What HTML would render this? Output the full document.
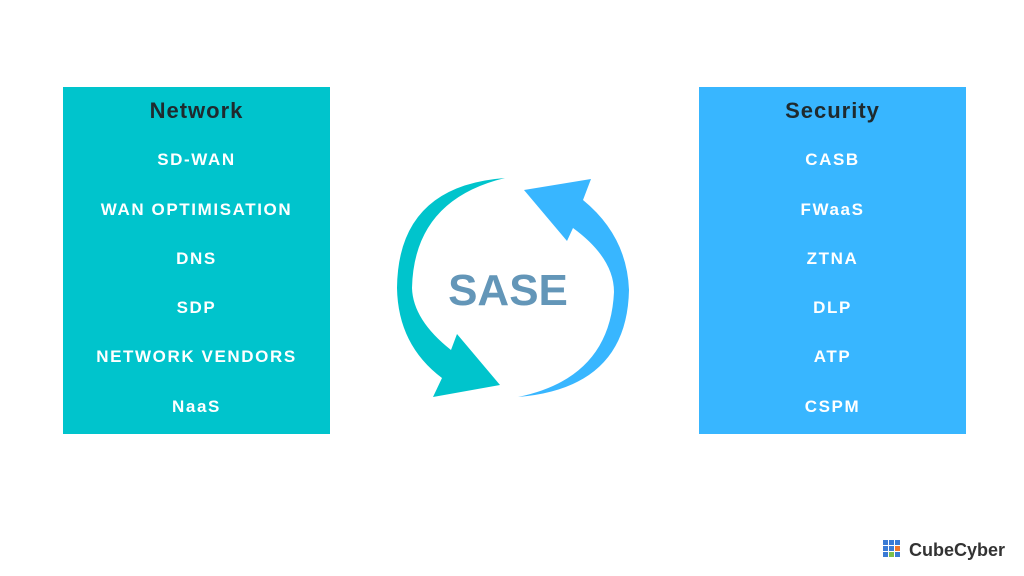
<!DOCTYPE html>
<html><head><style>
body{margin:0;width:1024px;height:576px;background:#fff;position:relative;overflow:hidden;font-family:"Liberation Sans",sans-serif}
.box{position:absolute;top:87px;width:267px;height:347px;text-align:center}
.box div{position:absolute;left:0;right:0;font-weight:bold;color:#fff;font-size:17px;letter-spacing:1.6px}
.box .t{color:#1f2a2e;font-size:22px;letter-spacing:1px}
</style></head><body>
<div class="box" style="left:63px;background:#00c4cc">
<div class="t" style="top:11px">Network</div>
<div style="top:63px">SD-WAN</div>
<div style="top:113px">WAN OPTIMISATION</div>
<div style="top:162px">DNS</div>
<div style="top:211px">SDP</div>
<div style="top:260px">NETWORK VENDORS</div>
<div style="top:310px">NaaS</div>
</div>
<div class="box" style="left:699px;background:#38b6ff">
<div class="t" style="top:11px">Security</div>
<div style="top:63px">CASB</div>
<div style="top:113px">FWaaS</div>
<div style="top:162px">ZTNA</div>
<div style="top:211px">DLP</div>
<div style="top:260px">ATP</div>
<div style="top:310px">CSPM</div>
</div>
<svg width="1024" height="576" style="position:absolute;left:0;top:0">
<path d="M505,178 Q398,186 397,288 Q398,345 442,378 L433,397 L500,385 L457,334 L451,350 Q413,320 412,288 Q414,200 505,178 Z" fill="#00c4cc"/>
<path d="M518,397 Q627,388 629,290 Q627,236 583,200 L591,179 L524,190 L567,241 L573,228 Q614,258 614,292 Q610,378 518,397 Z" fill="#38b6ff"/>
<text x="508" y="305" text-anchor="middle" font-family="Liberation Sans" font-weight="bold" font-size="44" fill="#6396b8">SASE</text>
<g transform="translate(883,540)">
<rect x="0" y="0" width="5" height="5" fill="#3a7bd5"/><rect x="6" y="0" width="5" height="5" fill="#3a7bd5"/><rect x="12" y="0" width="5" height="5" fill="#3a7bd5"/>
<rect x="0" y="6" width="5" height="5" fill="#3a7bd5"/><rect x="6" y="6" width="5" height="5" fill="#3a7bd5"/><rect x="12" y="6" width="5" height="5" fill="#f0772a"/>
<rect x="0" y="12" width="5" height="5" fill="#3a7bd5"/><rect x="6" y="12" width="5" height="5" fill="#7cc04b"/><rect x="12" y="12" width="5" height="5" fill="#3a7bd5"/>
</g>
<text x="909" y="556" font-family="Liberation Sans" font-weight="bold" font-size="18" fill="#333">CubeCyber</text>
</svg>
</body></html>
